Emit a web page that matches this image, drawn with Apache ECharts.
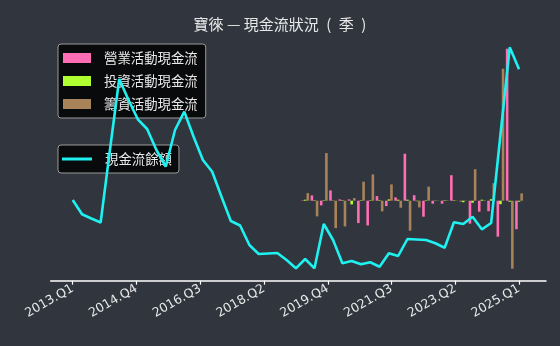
<!DOCTYPE html>
<html>
<head>
<meta charset="utf-8">
<script src="https://cdn.jsdelivr.net/npm/echarts@6/dist/echarts.min.js"></script>
<style>
  html, body { margin: 0; padding: 0; background: #30353e; }
  #main { width: 560px; height: 346px; }
</style>
</head>
<body>
<div id="main"></div>
<script>
// 季度: index 0 = 2013.Q1
const quarters = []
for (let y = 2013; y <= 2025; y++) for (let q = 1; q <= 4; q++) quarters.push(y + '.Q' + q)

// x 軸刻度標籤 (均分 0..48)
const tickLabels = ['2013.Q1', '2014.Q4', '2016.Q3', '2018.Q2', '2019.Q4', '2021.Q3', '2023.Q2', '2025.Q1']

// 現金流餘額 2013.Q1 ~ 2025.Q1
const cashBalance = [
  80.7, 66.4, 62.2, 58.2, 130.7, 201.7, 180.7, 161.4, 151.7, 130.7,
  114.0, 150.7, 169.0, 144.0, 120.7, 109.0, 84.0, 59.7, 55.2, 35.7,
  26.7, 27.2, 27.7, 20.7, 12.4, 21.7, 12.4, 56.7, 40.7, 17.4,
  19.7, 16.4, 18.4, 14.0, 27.4, 24.7, 41.7, 41.2, 40.7, 37.4,
  33.0, 58.4, 56.7, 64.0, 51.4, 57.7, 145.7, 233.4, 211.4,
]

// 三大現金流 2019.Q2 ~ 2025.Q1
const barStart = 25
const operatingCF = [
  0.4, 5.3, -4.7, 10.3, 1.3, 1.3, -22.4, -24.7, 4.6, -5.4,
  3.3, 47.0, 5.5, -16.0, -3.0, -3.0, 25.5, -0.8, -23.0, -11.0,
  -10.5, -36.0, 152.0, -28.5,
]
const investingCF = [
  1.0, 0.5, 0.5, 0.3, 0.5, -3.7, 0.5, 0.5, 0.5, 1.3,
  1.0, 1.0, -0.5, 0.5, 0.3, 0.5, 0.5, -1.5, -2.0, 1.0,
  1.5, -3.5, -1.0, -1.0,
]
const financingCF = [
  7.6, -15.7, 47.6, -27.4, -25.7, 2.6, 19.0, 26.3, -10.7, 16.3,
  -7.0, -30.0, -6.7, 14.0, 0.3, 0.5, 0.3, 0.3, 31.5, 0.5,
  17.5, 132.0, -68.0, 7.3,
]

const tickStep = 48 / 7
const tickValues = tickLabels.map((_, i) => i * tickStep)

const toPairs = (arr, start) => arr.map((v, i) => [start + i, v])

const textColor = '#e8e8e8'
const cjkFont = '"Noto Sans CJK TC", "Noto Sans CJK SC", sans-serif'

const legendBox = {
  orient: 'vertical',
  left: 58,
  backgroundColor: 'rgba(5,5,5,0.9)',
  borderColor: '#9a9a9a',
  borderWidth: 1,
  borderRadius: 3,
  itemWidth: 28,
  itemGap: 9,
  z: 1,
  textStyle: {color: textColor, fontFamily: cjkFont, fontSize: 13.4, lineHeight: 14, padding: [0, 0, 0, 8]},
}

const option = {
  backgroundColor: '#30353e',
  animation: false,
  title: {
    text: '寶徠 — 現金流狀況\u2002(\u2002季\u2002)',
    left: 'center',
    top: 12,
    textStyle: {color: textColor, fontFamily: cjkFont, fontSize: 15, fontWeight: 'normal'},
  },
  legend: [
    {
      ...legendBox,
      top: 44,
      itemHeight: 10,
      padding: [7, 8, 7, 5],
      data: [
        {name: '營業活動現金流', icon: 'rect'},
        {name: '投資活動現金流', icon: 'rect'},
        {name: '籌資活動現金流', icon: 'rect'},
      ],
    },
    {
      ...legendBox,
      top: 145,
      itemWidth: 30,
      itemHeight: 3,
      padding: [7, 7, 7, 4],
      data: [{name: '現金流餘額', icon: 'rect'}],
    },
  ],
  grid: {left: 50.7, right: 14, top: 40.7, bottom: 65.3},
  xAxis: {
    type: 'value',
    min: -2.37,
    max: 50.9,
    axisLine: {show: true, onZero: false, lineStyle: {color: '#ffffff', width: 1.5}},
    axisTick: {show: true, customValues: tickValues, length: 4, lineStyle: {color: '#ffffff', width: 1.2}},
    axisLabel: {
      customValues: tickValues,
      rotate: 30,
      margin: 7,
      color: textColor,
      fontFamily: 'DejaVu Sans',
      fontSize: 12.5,
      formatter: (v) => tickLabels[Math.round(v / tickStep)],
    },
    splitLine: {show: false},
  },
  yAxis: [
    {type: 'value', min: 0, max: 240, show: false, splitLine: {show: false}},
    {type: 'value', min: -80, max: 160, show: false, splitLine: {show: false}},
  ],
  series: [
    {
      name: '營業活動現金流',
      type: 'bar',
      yAxisIndex: 1,
      barWidth: 2.6,
      barGap: '0%',
      itemStyle: {color: '#ff6eb4'},
      z: 2,
      data: toPairs(operatingCF, barStart),
    },
    {
      name: '投資活動現金流',
      type: 'bar',
      yAxisIndex: 1,
      barWidth: 2.6,
      barGap: '0%',
      itemStyle: {color: '#b0ff30'},
      z: 2,
      data: toPairs(investingCF, barStart),
    },
    {
      name: '籌資活動現金流',
      type: 'bar',
      yAxisIndex: 1,
      barWidth: 2.6,
      barGap: '0%',
      itemStyle: {color: '#a8835a'},
      z: 2,
      data: toPairs(financingCF, barStart),
    },
    {
      name: '現金流餘額',
      type: 'line',
      yAxisIndex: 0,
      showSymbol: false,
      lineStyle: {color: '#1ff0f0', width: 2.6},
      itemStyle: {color: '#1ff0f0'},
      z: 5,
      data: toPairs(cashBalance, 0),
    },
  ],
}

const chart = echarts.init(document.getElementById('main'))
chart.setOption(option)
</script>
</body>
</html>
